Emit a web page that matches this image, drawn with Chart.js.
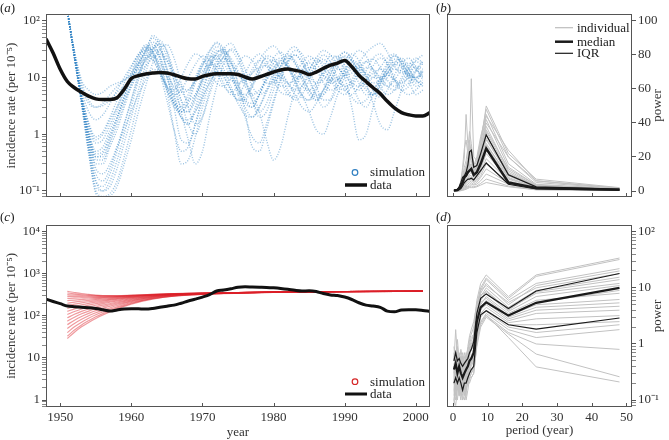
<!DOCTYPE html>
<html lang="en">
<head>
<meta charset="UTF-8">
<title>Incidence: simulations, data and power spectra</title>
<script src="https://cdn.jsdelivr.net/npm/chart.js"></script>
<style>
  body { margin: 0; background: #fff; font-family: 'Liberation Serif', 'Times New Roman', serif; }
  #wrap { position: relative; width: 669px; height: 440px; overflow: hidden; }
  canvas { position: absolute; }
  .tag { position: absolute; font-size: 13px; line-height: 13px; color: #222; }
</style>
</head>
<body>
<div id="wrap">
  <canvas id="chartA" width="440" height="215" style="left:0;top:0"></canvas>
  <canvas id="chartB" width="229" height="215" style="left:440px;top:0"></canvas>
  <canvas id="chartC" width="440" height="225" style="left:0;top:215px"></canvas>
  <canvas id="chartD" width="229" height="225" style="left:440px;top:215px"></canvas>
  <div class="tag" style="left:0;top:1px">(<i>a</i>)</div>
  <div class="tag" style="left:436px;top:1px">(<i>b</i>)</div>
  <div class="tag" style="left:0;top:210px">(<i>c</i>)</div>
  <div class="tag" style="left:436px;top:210px">(<i>d</i>)</div>
</div>

<script>
// ---- panel (a): incidence, simulated vs data (log scale) ----
const yearsData = Array.from({ length: 55 }, (_, i) => 1948 + i);
const incidenceA = [48, 27, 14, 8.5, 6.6, 5.5, 4.7, 4.2, 4.1, 4.1, 4.4, 6.2, 9.6, 10.8, 11.5, 12, 12.3, 12, 11.2, 10.2,
  9.5, 9.4, 10.5, 11.2, 11.6, 11.7, 11.7, 11.3, 10.2, 9.4, 10.2, 11.3, 12.5, 13.6, 14.1, 13.4, 12.6, 11.3, 12.5, 14.5,
  16.5, 18, 20, 15.5, 11, 8.5, 6.6, 5.2, 3.8, 2.9, 2.4, 2.2, 2.1, 2.1, 2.4];

// simulated runs, yearly from 1951
const simStartYear = 1951;
const simTraces = [
  [150, 24, 4, 0.7, 0.15, 0.12, 0.2, 0.5, 1.5, 4, 12, 30, 50, 35, 14, 5, 2, 1.5, 3, 8, 18, 30, 25, 12, 6, 3.5, 3, 5, 11, 22, 28, 18, 9, 5, 4, 7, 14, 24, 22, 13, 7, 6, 9, 16, 22, 18, 10, 7, 8, 13, 18],
  [150, 24, 5, 1.5, 0.8, 1, 1.8, 3, 6, 12, 24, 38, 30, 16, 7, 3.5, 2.5, 3.5, 8, 16, 24, 20, 11, 6, 4, 4.5, 8, 15, 22, 17, 9, 5, 4.5, 7, 13, 20, 18, 11, 7, 6, 9, 15, 19, 14, 9, 7, 9, 14, 18, 14, 10],
  [150, 24, 4, 0.9, 0.3, 0.3, 0.6, 1.2, 3, 7, 16, 30, 42, 32, 15, 6, 3, 2.5, 4, 10, 22, 35, 28, 14, 6, 3, 2, 3, 6, 12, 20, 26, 18, 9, 5, 4, 6, 12, 20, 28, 22, 12, 7, 5, 6, 10, 16, 20, 14, 9, 8],
  [150, 30, 9, 6, 5, 5.5, 7, 8, 9, 12, 18, 25, 20, 12, 6, 3.5, 3, 5, 10, 18, 20, 14, 8, 5, 5, 8, 14, 20, 16, 9, 5.5, 5, 8, 14, 18, 14, 8, 6, 7, 12, 18, 16, 10, 7, 8, 12, 17, 15, 10, 9, 12],
  [150, 22, 3.5, 0.5, 0.1, 0.08, 0.09, 0.15, 0.4, 1.2, 4, 12, 28, 40, 30, 12, 4, 1.5, 1, 2, 6, 16, 32, 40, 25, 10, 4, 2, 2.5, 6, 14, 28, 35, 22, 10, 5, 3, 4, 9, 18, 26, 20, 11, 6, 4.5, 6, 11, 18, 22, 15, 9],
  [150, 25, 4.5, 1.2, 0.5, 0.6, 1.2, 2.5, 5, 11, 22, 35, 28, 12, 4, 1.2, 0.5, 0.6, 1.5, 5, 14, 28, 30, 18, 8, 4, 3, 5, 10, 18, 22, 15, 8, 4.5, 4, 6, 11, 19, 24, 16, 8, 4, 3, 5, 10, 18, 24, 17, 9, 5, 6],
  [150, 26, 6, 2.5, 1.8, 2.2, 3.5, 6, 10, 16, 25, 30, 22, 12, 7, 5, 6, 10, 17, 24, 20, 12, 7, 5.5, 7, 12, 20, 26, 19, 11, 7, 7, 11, 18, 24, 18, 11, 8, 9, 14, 20, 17, 11, 8, 9, 14, 19, 16, 11, 10, 13],
  [150, 23, 3.8, 0.6, 0.15, 0.1, 0.15, 0.35, 1, 3, 9, 25, 55, 40, 12, 3, 0.8, 0.7, 1.5, 4, 10, 20, 28, 22, 13, 7, 5, 6, 9, 14, 18, 16, 11, 7, 6, 8, 12, 16, 15, 11, 8, 7, 9, 12, 14, 12, 9, 8, 10, 13, 12],
  [150, 24, 4.2, 1, 0.4, 0.4, 0.8, 1.8, 4.5, 10, 20, 32, 26, 14, 6, 3, 2.5, 4, 9, 18, 30, 40, 28, 12, 5, 2, 0.9, 0.7, 1.5, 4, 10, 20, 30, 26, 14, 7, 4, 4, 7, 13, 22, 30, 24, 13, 7, 5, 6, 10, 16, 22, 18],
  [150, 24, 4, 0.8, 0.25, 0.2, 0.3, 0.6, 1.2, 2.5, 5, 9, 14, 12, 7, 3.5, 2, 1.8, 2.5, 4.5, 8, 12, 10, 6, 3.5, 2.2, 2, 3, 5.5, 9, 11, 8, 5, 3, 2.5, 3.5, 6, 9, 10, 7, 4.5, 3.5, 4, 6, 9, 11, 9, 6, 5, 6, 8],
  [150, 24, 4, 0.9, 0.35, 0.35, 0.7, 1.5, 3.5, 8, 17, 30, 38, 25, 10, 4, 2, 1.5, 2.5, 6, 14, 26, 32, 20, 8, 2.5, 0.6, 0.5, 1.2, 3.5, 9, 18, 25, 18, 9, 5, 5, 8, 14, 10, 3, 0.8, 1, 3, 8, 16, 24, 20, 12, 8, 9],
  [150, 25, 4.5, 1.1, 0.45, 0.5, 1, 2, 4, 7, 12, 20, 28, 30, 20, 9, 4, 3, 5, 11, 22, 24, 14, 7, 4, 4, 7, 14, 24, 22, 12, 6, 4, 5, 9, 17, 25, 19, 10, 6, 5, 7, 13, 22, 26, 17, 9, 6, 7, 13, 20],
  [150, 27, 7, 3.5, 3, 3.5, 5, 7, 9, 11, 14, 20, 32, 38, 24, 12, 7, 6, 9, 16, 28, 42, 32, 18, 11, 9, 12, 20, 30, 36, 26, 15, 10, 10, 14, 22, 30, 25, 16, 11, 12, 18, 27, 35, 40, 28, 16, 12, 14, 20, 25],
  [150, 24, 4, 0.7, 0.2, 0.15, 0.25, 0.6, 1.5, 4, 10, 22, 35, 22, 6, 1.2, 0.3, 0.35, 0.9, 3, 8, 16, 22, 18, 12, 8, 5, 2.5, 0.8, 0.35, 0.6, 2, 6, 13, 20, 22, 15, 9, 6, 5, 7, 11, 15, 14, 10, 7, 6, 8, 12, 16, 14],
  [150, 25, 5, 1.6, 0.9, 1.1, 2, 4, 8, 15, 26, 34, 28, 14, 7, 6, 10, 18, 26, 22, 13, 8, 7, 10, 17, 24, 20, 12, 8, 8, 12, 19, 25, 19, 11, 8, 9, 14, 22, 28, 20, 12, 9, 10, 15, 22, 26, 18, 12, 10, 13],
  [150, 22, 3.5, 0.55, 0.12, 0.1, 0.12, 0.25, 0.7, 2, 6, 16, 32, 45, 28, 9, 2.5, 0.8, 0.3, 0.5, 2, 7, 18, 32, 26, 14, 7, 5, 6, 10, 16, 22, 18, 10, 6, 4, 5, 9, 16, 24, 20, 11, 6, 5, 7, 12, 18, 22, 15, 9, 7],
  [150, 25, 4.8, 1.4, 0.7, 0.8, 1.5, 3, 6, 10, 16, 22, 24, 18, 11, 7, 5.5, 6, 9, 13, 17, 16, 12, 9, 8, 9, 12, 15, 16, 13, 10, 8, 9, 12, 15, 14, 11, 9, 9, 11, 14, 15, 12, 10, 10, 12, 14, 13, 11, 10, 11],
  [150, 24, 4.2, 1, 0.4, 0.45, 0.9, 2, 4.5, 9, 18, 28, 32, 22, 10, 4.5, 2.5, 2.5, 4.5, 9, 17, 25, 22, 13, 7, 4, 3.5, 5, 9, 15, 20, 16, 9, 5, 2.5, 1.2, 1, 2, 5, 10, 16, 14, 8, 3.5, 1.5, 1.2, 2.5, 6, 11, 15, 12],
  [150, 28, 8, 4, 3, 3.2, 4, 5.5, 7, 9, 12, 16, 22, 26, 20, 11, 6, 4, 5, 9, 16, 22, 18, 10, 6, 5, 7, 12, 18, 20, 14, 8, 6, 7, 11, 17, 21, 15, 9, 7, 8, 13, 19, 21, 15, 9, 7, 9, 14, 19, 17],
  [150, 22, 3.3, 0.45, 0.09, 0.07, 0.08, 0.12, 0.3, 0.8, 2.5, 7, 18, 32, 38, 22, 8, 3, 1.5, 2, 5, 12, 24, 30, 20, 9, 4, 2.5, 3.5, 8, 16, 24, 20, 11, 6, 4.5, 6, 11, 19, 23, 15, 8, 5, 5, 8, 14, 21, 19, 11, 7, 8]
];

// ---- panel (c): deterministic runs vs data ----
const redYears = [1951, 1952, 1953, 1954, 1955, 1956, 1958, 1960, 1963, 1966, 1970, 1975, 1980, 1990, 2001];
const redRuns = [
  [383, 360, 340, 325, 312, 305, 302, 310, 325, 338, 350, 360, 370, 380, 388],
  [350, 335, 322, 312, 305, 300, 300, 308, 323, 337, 349, 360, 370, 380, 388],
  [320, 312, 305, 300, 296, 294, 296, 305, 321, 336, 348, 359, 369, 380, 388],
  [290, 288, 286, 285, 284, 284, 289, 300, 318, 334, 347, 358, 369, 380, 388],
  [260, 264, 267, 270, 272, 274, 282, 295, 315, 332, 346, 358, 369, 380, 388],
  [230, 238, 245, 252, 258, 263, 275, 290, 312, 330, 345, 357, 368, 379, 388],
  [200, 212, 224, 234, 243, 251, 267, 284, 309, 328, 344, 357, 368, 379, 387],
  [175, 190, 204, 217, 228, 238, 258, 278, 305, 326, 342, 356, 368, 379, 387],
  [150, 168, 184, 199, 212, 225, 249, 271, 301, 323, 341, 355, 367, 379, 387],
  [128, 147, 165, 181, 196, 210, 238, 263, 296, 320, 339, 354, 367, 379, 387],
  [108, 127, 146, 163, 179, 195, 226, 255, 291, 317, 337, 353, 366, 378, 387],
  [90, 109, 128, 146, 163, 180, 214, 246, 286, 314, 335, 352, 366, 378, 387],
  [75, 93, 112, 130, 148, 165, 202, 237, 280, 310, 333, 351, 365, 378, 387],
  [62, 79, 97, 115, 133, 151, 190, 228, 275, 307, 331, 350, 365, 378, 387],
  [50, 66, 83, 101, 119, 137, 177, 218, 268, 303, 329, 349, 364, 378, 387],
  [40, 55, 71, 88, 106, 124, 165, 208, 262, 300, 327, 348, 364, 378, 387],
  [33, 46, 61, 77, 95, 113, 155, 199, 256, 296, 325, 347, 363, 377, 387],
  [29, 41, 55, 70, 87, 105, 146, 191, 250, 293, 323, 346, 363, 377, 387]
];
const incidenceC = [250, 220, 195, 172, 165, 160, 157, 150, 140, 130, 138, 145, 148, 147, 145, 150, 160, 170, 180, 200,
  225, 250, 280, 320, 390, 410, 440, 480, 490, 485, 480, 475, 465, 450, 430, 405, 390, 395, 380, 340,
  315, 305, 280, 245, 205, 180, 172, 160, 130, 125, 138, 140, 140, 135, 128];

// ---- panels (b) and (d): power spectra ----
const periods = [0.3, 0.8, 1.3, 1.8, 2.3, 2.8, 3.3, 3.8, 4.3, 4.8, 5.3, 6, 6.9, 8, 9.6, 16, 24, 48];
const powerB = [
  [0.2, 0.3, 0.5, 1.2, 3, 6, 10, 14, 18, 24, 66, 20, 18, 30, 48, 20, 6, 1.5],
  [0.3, 0.4, 0.8, 2, 5, 12, 20, 45, 28, 16, 14, 12, 16, 28, 50, 22, 7, 2],
  [0.2, 0.3, 0.6, 1.5, 4, 8, 12, 15, 20, 30, 22, 15, 20, 32, 45, 16, 4, 1.2],
  [0.1, 0.2, 0.4, 1, 2.5, 5, 8, 10, 12, 14, 26, 14, 15, 25, 42, 14, 3.5, 1.1],
  [0.2, 0.3, 0.5, 1.2, 3, 6, 9, 11, 14, 18, 20, 12, 14, 22, 38, 12, 3, 1],
  [0.1, 0.2, 0.3, 0.8, 2, 4, 6, 8, 10, 12, 14, 10, 12, 20, 35, 11, 2.8, 0.9],
  [0.2, 0.3, 0.5, 1.1, 2.5, 5, 7, 9, 11, 13, 12, 9, 11, 18, 31, 9, 2.5, 0.9],
  [0.1, 0.2, 0.3, 0.6, 1.5, 3, 5, 7, 8, 10, 11, 8, 10, 16, 28, 8, 2, 0.8],
  [0.1, 0.15, 0.25, 0.5, 1.2, 2.5, 4, 6, 7, 9, 9, 7, 9, 14, 26, 7.5, 2, 0.7],
  [0.1, 0.1, 0.2, 0.4, 1, 2, 3, 5, 6, 8, 8, 6, 8, 13, 22, 7, 1.8, 0.7],
  [0.1, 0.1, 0.2, 0.4, 0.8, 1.5, 2.5, 4, 5, 6, 7, 5.5, 7, 11, 19, 6, 1.5, 0.6],
  [0.05, 0.1, 0.15, 0.3, 0.6, 1.2, 2, 3, 4, 5, 6, 5, 6, 9, 16, 5, 1.4, 0.6],
  [0.05, 0.1, 0.1, 0.2, 0.5, 1, 1.5, 2.5, 3, 4, 5, 4, 5, 8, 13, 4.5, 1.2, 0.5],
  [0.05, 0.05, 0.1, 0.2, 0.4, 0.8, 1.2, 2, 2.5, 3, 4, 3.5, 4, 6, 10, 4, 1, 0.5],
  [0.05, 0.05, 0.1, 0.15, 0.3, 0.6, 1, 1.5, 2, 2.5, 3, 2.5, 3, 4.5, 7, 3, 0.8, 0.4],
  [0.05, 0.05, 0.05, 0.1, 0.2, 0.4, 0.7, 1, 1.5, 2, 2, 2, 2.5, 3.5, 5, 2.5, 0.7, 0.4],
  [0.3, 0.5, 1, 2.5, 6, 14, 25, 30, 22, 15, 12, 10, 14, 24, 40, 20, 5, 1.5],
  [0.2, 0.4, 0.8, 2, 5, 9, 14, 18, 25, 35, 28, 14, 18, 28, 44, 24, 6, 1.8],
  [0.2, 0.3, 0.6, 1.4, 3.5, 7, 10, 13, 16, 20, 18, 12, 14, 22, 36, 13, 3.5, 1.2],
  [0.1, 0.2, 0.4, 0.9, 2, 4, 6, 9, 12, 16, 15, 10, 12, 19, 33, 10, 3, 1],
  [0.2, 0.3, 0.5, 1, 2.2, 4.5, 7, 10, 14, 22, 25, 12, 13, 20, 30, 10, 3, 1],
  [0.1, 0.2, 0.4, 0.9, 2, 4, 6.5, 9, 11, 14, 16, 11, 12, 18, 27, 9, 2.5, 0.8]
];
const medianB = [0.3, 0.4, 0.6, 1.5, 3, 5, 8, 9, 11, 12, 13, 9.5, 11, 16, 25, 5, 1.8, 0.8];
const iqrHiB = [0.5, 0.6, 1, 2.5, 5, 8, 9, 11, 15, 23, 24, 14, 15, 22, 33, 9.5, 2.5, 1.1];
const iqrLoB = [0.2, 0.3, 0.4, 0.8, 1.5, 3, 5, 6, 7, 7, 7.5, 6.5, 9, 12, 16.5, 4, 1.2, 0.5];

const powerD = [
  [0.5, 1.8, 0.6, 0.4, 0.8, 0.5, 0.3, 0.5, 0.7, 1.2, 1.5, 2, 6, 12, 17, 7, 17, 34],
  [0.3, 0.6, 1.2, 0.5, 0.3, 0.6, 0.4, 0.7, 0.5, 0.9, 1.1, 1.5, 5, 10, 15, 6.5, 16, 32],
  [0.2, 0.4, 0.3, 0.7, 0.4, 0.25, 0.5, 0.3, 0.6, 0.8, 1, 1.2, 4, 9, 14, 6, 12, 22],
  [0.4, 0.3, 0.5, 0.3, 0.6, 0.35, 0.2, 0.4, 0.5, 0.6, 0.8, 1, 3.5, 8, 12, 5, 11, 20],
  [0.15, 0.5, 0.9, 0.4, 0.2, 0.4, 0.7, 0.5, 0.9, 1.4, 1.8, 2.5, 5, 9, 11, 5.5, 10, 18],
  [0.6, 0.25, 0.4, 0.2, 0.35, 0.5, 0.3, 0.25, 0.4, 0.5, 0.6, 0.8, 3, 7, 10, 4.5, 9, 15.5],
  [0.2, 0.15, 0.3, 0.5, 0.25, 0.15, 0.3, 0.4, 0.3, 0.45, 0.55, 0.7, 2.5, 6, 9, 4, 8.5, 14],
  [0.9, 0.4, 0.2, 0.3, 0.5, 0.7, 0.4, 0.6, 0.8, 1, 1.3, 1.5, 4, 7.5, 8.5, 4.2, 8, 12],
  [0.3, 0.7, 0.35, 0.25, 0.15, 0.3, 0.5, 0.35, 0.5, 0.7, 0.8, 1, 3, 6, 8, 3.8, 7, 11],
  [0.1, 0.2, 0.15, 0.35, 0.6, 0.3, 0.2, 0.15, 0.25, 0.4, 0.45, 0.6, 2.2, 5, 7, 3.5, 6, 8],
  [0.45, 0.2, 0.6, 0.3, 0.2, 0.45, 0.25, 0.5, 0.4, 0.7, 0.9, 1.2, 3, 5.5, 6.5, 3.2, 5, 6.2],
  [0.25, 0.12, 0.2, 0.15, 0.3, 0.2, 0.12, 0.2, 0.3, 0.35, 0.4, 0.5, 2, 4.5, 6, 3, 4.5, 5.4],
  [0.08, 0.3, 0.2, 0.4, 0.15, 0.1, 0.2, 0.3, 0.2, 0.3, 0.45, 0.6, 1.8, 4, 5.5, 2.8, 4, 4.7],
  [0.7, 0.35, 0.25, 0.6, 0.4, 0.3, 0.6, 0.45, 0.6, 0.8, 0.9, 1, 2.5, 4.2, 5, 2.6, 3.5, 4],
  [0.15, 0.1, 0.25, 0.12, 0.2, 0.3, 0.15, 0.1, 0.15, 0.25, 0.3, 0.4, 1.5, 3.5, 4.5, 2.4, 2.8, 3.2],
  [0.35, 0.5, 0.15, 0.2, 0.12, 0.2, 0.35, 0.25, 0.2, 0.25, 0.3, 0.35, 1.2, 3, 4, 2.2, 2.2, 2.5],
  [0.12, 0.25, 0.4, 0.25, 0.45, 0.6, 0.3, 0.2, 0.35, 0.5, 0.6, 0.8, 2, 3.2, 3.8, 2, 1.6, 2.2],
  [0.3, 0.15, 0.1, 0.2, 0.3, 0.15, 0.25, 0.35, 0.25, 0.25, 0.25, 0.3, 1, 2.5, 3.5, 1.8, 1.3, 1.8],
  [0.2, 0.35, 0.25, 0.15, 0.1, 0.25, 0.15, 0.3, 0.4, 0.4, 0.45, 0.5, 1.2, 2.2, 3.2, 1.6, 1, 0.8],
  [0.1, 0.08, 0.15, 0.3, 0.2, 0.12, 0.1, 0.15, 0.2, 0.2, 0.25, 0.3, 0.9, 2, 3, 1.5, 0.66, 0.26],
  [0.25, 0.45, 0.3, 0.12, 0.25, 0.4, 0.2, 0.12, 0.3, 0.4, 0.5, 0.6, 1.5, 2.4, 3.3, 1.3, 0.39, 0.21],
  [0.4, 0.2, 0.35, 0.5, 0.3, 0.2, 0.4, 0.6, 0.5, 0.7, 0.8, 0.9, 2.5, 4.5, 5.8, 3.3, 5.5, 9]
];
const medianD = [0.35, 0.45, 0.3, 0.4, 0.3, 0.25, 0.3, 0.35, 0.4, 0.5, 0.55, 0.7, 2.5, 4.5, 5.5, 3.2, 5.4, 10];
const iqrHiD = [0.5, 0.7, 0.5, 0.55, 0.45, 0.4, 0.45, 0.5, 0.55, 0.7, 0.8, 1.1, 3.5, 6.5, 7.8, 4.3, 8.8, 18];
const iqrLoD = [0.2, 0.25, 0.2, 0.25, 0.2, 0.15, 0.2, 0.2, 0.25, 0.3, 0.35, 0.4, 1.6, 3.3, 3.9, 2.2, 1.84, 2.9];

// ---- ticks ----
const yearTicks = [1950, 1960, 1970, 1980, 1990, 2000];
const periodTicks = [0, 10, 20, 30, 40, 50];
const aTicks = [0.1, 1, 10, 100], aLabels = ['10⁻¹', '1', '10', '10²'];
const bTicks = [0, 20, 40, 60, 80, 100];
const cTicks = [1, 10, 100, 1000, 10000], cLabels = ['1', '10', '10²', '10³', '10⁴'];
const dTicks = [0.1, 1, 10, 100], dLabels = ['10⁻¹', '1', '10', '10²'];

const SERIF = "'Liberation Serif', 'Times New Roman', serif";
const SIM_BLUE = 'rgba(55, 135, 200, 0.5)';
const RUN_RED = 'rgba(220, 30, 40, 0.45)';
const GREY = '#c2c2c2';
Chart.defaults.font.family = SERIF;
Chart.defaults.font.size = 13;
Chart.defaults.color = '#333';
Chart.defaults.animation = false;
Chart.defaults.plugins.legend.display = false;
Chart.defaults.plugins.tooltip.enabled = false;
Chart.defaults.elements.point.radius = 0;

function labelFor(v, ticks, labels) {
  const i = ticks.findIndex(t => Math.abs(t - v) <= 1e-6 * Math.max(1, Math.abs(t)));
  return i < 0 ? '' : (labels ? labels[i] : String(ticks[i]));
}

function logTicks(min, max) {
  const out = [];
  for (let e = Math.floor(Math.log10(min)); e <= Math.ceil(Math.log10(max)); e++) {
    for (let m = 1; m <= 9; m++) {
      const v = +(m * Math.pow(10, e)).toPrecision(6);
      if (v >= min && v <= max) out.push({ value: v, major: m === 1 });
    }
  }
  return out;
}

function yScale(o) {
  return {
    type: o.log ? 'logarithmic' : 'linear',
    position: o.position,
    min: o.min, max: o.max,
    afterBuildTicks: s => { s.ticks = o.log ? logTicks(o.min, o.max) : o.major.map(v => ({ value: v, major: true })); },
    afterFit: s => { s.width = o.width; },
    ticks: { autoSkip: false, padding: 2, callback: v => labelFor(v, o.major, o.labels) },
    grid: { drawOnChartArea: false, tickLength: 4, tickColor: '#555',
            tickWidth: c => (c.tick && c.tick.major ? 1 : 0.7) },
    border: { display: false },
    // right-hand titles are drawn by the frame plugin so they read bottom-to-top
    title: { display: o.position === 'left', text: o.title, padding: { top: o.titlePad, bottom: 0 } }
  };
}

function xScale(o) {
  return {
    type: 'linear', min: o.min, max: o.max,
    afterBuildTicks: s => { s.ticks = o.major.map(v => ({ value: v })); },
    afterFit: s => { s.height = o.height; },
    grid: { display: false, drawTicks: false },
    border: { display: false },
    ticks: { display: !!o.labels, autoSkip: false, maxRotation: 0, padding: 3,
             callback: v => labelFor(v, o.major) },
    title: { display: !!o.title, text: o.title, padding: { top: 0, bottom: o.titlePad || 0 } }
  };
}

// box round the plot, inward x ticks, right-hand title and a hand-placed legend
const framePlugin = {
  id: 'frame',
  afterDraw(chart, args, opts) {
    const { ctx, chartArea: a } = chart;
    ctx.save();
    ctx.strokeStyle = '#555';
    ctx.lineWidth = 1;
    ctx.strokeRect(Math.round(a.left) + 0.5, Math.round(a.top) + 0.5,
                   Math.round(a.right - a.left) - 1, Math.round(a.bottom - a.top) - 1);
    const xs = chart.scales.x;
    xs.ticks.forEach(t => {
      const px = Math.round(xs.getPixelForValue(t.value)) + 0.5;
      ctx.beginPath();
      ctx.moveTo(px, a.bottom);
      ctx.lineTo(px, a.bottom - 4);
      ctx.stroke();
    });
    ctx.font = '13px ' + SERIF;
    ctx.fillStyle = '#222';
    if (opts.rightTitle) {
      ctx.save();
      ctx.translate(chart.width - 11, (a.top + a.bottom) / 2);
      ctx.rotate(-Math.PI / 2);
      ctx.textAlign = 'center';
      ctx.textBaseline = 'middle';
      ctx.fillStyle = '#333';
      ctx.fillText(opts.rightTitle, 0, 0);
      ctx.restore();
    }
    ctx.textBaseline = 'middle';
    (opts.items || []).forEach(it => {
      const y = it.fromBottom ? a.bottom - it.dy : a.top + it.dy;
      ctx.strokeStyle = it.color;
      ctx.lineWidth = it.width;
      ctx.beginPath();
      if (it.kind === 'circle') {
        ctx.arc(a.right + it.mx, y, 2.8, 0, Math.PI * 2);
      } else {
        ctx.moveTo(a.right + it.x0, y);
        ctx.lineTo(a.right + it.x1, y);
      }
      ctx.stroke();
      ctx.fillText(it.text, a.right + it.tx, y + 0.5);
    });
    ctx.restore();
  }
};

const xy = (xs, ys) => ys.map((v, i) => ({ x: xs[i], y: v }));
const base = { responsive: false, devicePixelRatio: 1 };

// (a)
new Chart(document.getElementById('chartA'), {
  type: 'line',
  data: {
    datasets: [
      { data: xy(yearsData, incidenceA), borderColor: '#111', borderWidth: 3.5, cubicInterpolationMode: 'monotone' },
      ...simTraces.map(tr => ({
        data: tr.map((v, i) => ({ x: simStartYear + i, y: v })),
        borderColor: SIM_BLUE, borderWidth: 1.4, borderDash: [1, 1.6], cubicInterpolationMode: 'monotone'
      }))
    ]
  },
  options: {
    ...base,
    layout: { padding: { top: 14, right: 10, left: 0, bottom: 0 } },
    scales: {
      x: xScale({ min: 1948, max: 2002, major: yearTicks, height: 18 }),
      y: yScale({ log: true, position: 'left', min: 0.078, max: 132, major: aTicks, labels: aLabels,
                  width: 46, title: 'incidence rate (per 10⁻⁵)', titlePad: 4 })
    },
    plugins: { frame: { items: [
      { kind: 'circle', mx: -75, dy: 24.5, fromBottom: true, color: '#2f7fc1', width: 1.2, text: 'simulation', tx: -60 },
      { kind: 'line', x0: -85, x1: -63, dy: 12, fromBottom: true, color: '#111', width: 3.5, text: 'data', tx: -60 }
    ] } }
  },
  plugins: [framePlugin]
});

// (b)
new Chart(document.getElementById('chartB'), {
  type: 'line',
  data: {
    datasets: [
      { data: xy(periods, medianB), borderColor: '#1a1a1a', borderWidth: 2.5 },
      { data: xy(periods, iqrHiB), borderColor: '#1a1a1a', borderWidth: 1.2 },
      { data: xy(periods, iqrLoB), borderColor: '#1a1a1a', borderWidth: 1.2 },
      ...powerB.map(p => ({ data: xy(periods, p), borderColor: GREY, borderWidth: 1 }))
    ]
  },
  options: {
    ...base,
    layout: { padding: { top: 14, right: 0, left: 7, bottom: 0 } },
    scales: {
      x: xScale({ min: -1.7, max: 51.6, major: periodTicks, height: 18 }),
      y: yScale({ position: 'right', min: -3.5, max: 104, major: bTicks, width: 37 })
    },
    plugins: { frame: { rightTitle: 'power', items: [
      { kind: 'line', x0: -77, x1: -59, dy: 13.7, color: '#bdbdbd', width: 1.2, text: 'individual', tx: -55 },
      { kind: 'line', x0: -77, x1: -59, dy: 27.7, color: '#1a1a1a', width: 2.5, text: 'median', tx: -55 },
      { kind: 'line', x0: -77, x1: -59, dy: 39.3, color: '#1a1a1a', width: 1.2, text: 'IQR', tx: -55 }
    ] } }
  },
  plugins: [framePlugin]
});

// (c)
new Chart(document.getElementById('chartC'), {
  type: 'line',
  data: {
    datasets: [
      { data: xy(yearsData, incidenceC), borderColor: '#111', borderWidth: 3, cubicInterpolationMode: 'monotone' },
      ...redRuns.map(r => ({ data: xy(redYears, r), borderColor: RUN_RED, borderWidth: 1.2, cubicInterpolationMode: 'monotone' }))
    ]
  },
  options: {
    ...base,
    layout: { padding: { top: 9, right: 10, left: 0, bottom: 0 } },
    scales: {
      x: xScale({ min: 1948, max: 2002, major: yearTicks, labels: true, height: 33, title: 'year' }),
      y: yScale({ log: true, position: 'left', min: 0.684, max: 14600, major: cTicks, labels: cLabels,
                  width: 46, title: 'incidence rate (per 10⁻⁵)', titlePad: 4 })
    },
    plugins: { frame: { items: [
      { kind: 'circle', mx: -75, dy: 25.3, fromBottom: true, color: '#d62728', width: 1.2, text: 'simulation', tx: -60 },
      { kind: 'line', x0: -85, x1: -63, dy: 13, fromBottom: true, color: '#111', width: 3, text: 'data', tx: -60 }
    ] } }
  },
  plugins: [framePlugin]
});

// (d)
new Chart(document.getElementById('chartD'), {
  type: 'line',
  data: {
    datasets: [
      { data: xy(periods, medianD), borderColor: '#1a1a1a', borderWidth: 2.2 },
      { data: xy(periods, iqrHiD), borderColor: '#1a1a1a', borderWidth: 1.2 },
      { data: xy(periods, iqrLoD), borderColor: '#1a1a1a', borderWidth: 1.2 },
      ...powerD.map(p => ({ data: xy(periods, p), borderColor: GREY, borderWidth: 1 }))
    ]
  },
  options: {
    ...base,
    layout: { padding: { top: 9, right: 0, left: 7, bottom: 0 } },
    scales: {
      x: xScale({ min: -1.7, max: 51.6, major: periodTicks, labels: true, height: 33, title: 'period (year)', titlePad: 2 }),
      y: yScale({ log: true, position: 'right', min: 0.0752, max: 133, major: dTicks, labels: dLabels, width: 37 })
    },
    plugins: { frame: { rightTitle: 'power' } }
  },
  plugins: [framePlugin]
});
</script>
</body>
</html>
